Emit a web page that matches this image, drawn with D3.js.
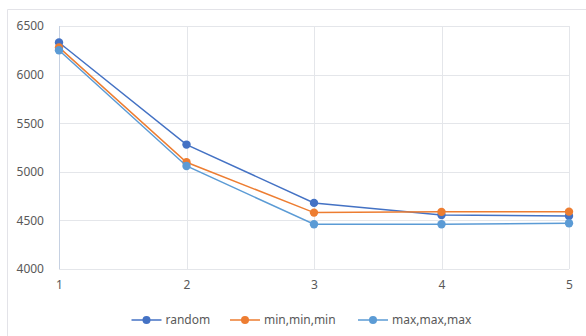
<!DOCTYPE html>
<html>
<head>
<meta charset="utf-8">
<script src="https://cdn.jsdelivr.net/npm/d3@7"></script>
<style>
  html, body { margin: 0; padding: 0; background: #fff; }
  svg { display: block; }
  text { font-family: "Noto Sans", "Open Sans", sans-serif; fill: #595959; }
</style>
</head>
<body>
<svg id="chart" width="586" height="336"></svg>
<script>
// Categories along the x axis
const categories = [1, 2, 3, 4, 5];
// Series values
const randomValues = [6330, 5280, 4680, 4555, 4545];
const minValues    = [6280, 5098, 4580, 4588, 4590];
const maxValues    = [6250, 5060, 4460, 4460, 4470];
const seriesNames  = ["random", "min,min,min", "max,max,max"];
// Y axis ticks
const yTicks = [4000, 4500, 5000, 5500, 6000, 6500];

const colors = ["#4472C4", "#ED7D31", "#5B9BD5"];
const series = [randomValues, minValues, maxValues].map((values, i) => ({
  name: seriesNames[i], color: colors[i],
  points: values.map((v, j) => ({ x: categories[j], y: v }))
}));

const svg = d3.select("#chart");

// chart frame
svg.append("line").attr("x1", 7.5).attr("x2", 586).attr("y1", 9.5).attr("y2", 9.5)
  .attr("stroke", "#e3e3e8");
svg.append("line").attr("x1", 7.5).attr("x2", 7.5).attr("y1", 9.5).attr("y2", 336)
  .attr("stroke", "#e3e3e8");

const margin = { left: 59, right: 569, top: 26, bottom: 269 };
const x = d3.scaleLinear().domain([1, 5]).range([margin.left, margin.right]);
const y = d3.scaleLinear().domain([4000, 6500]).range([margin.bottom, margin.top]);

// horizontal gridlines
svg.append("g").selectAll("line").data(yTicks).join("line")
  .attr("x1", margin.left).attr("x2", margin.right)
  .attr("y1", d => Math.round(y(d)) + 0.5).attr("y2", d => Math.round(y(d)) + 0.5)
  .attr("stroke", "#e4e6ea");
// vertical gridlines
svg.append("g").selectAll("line").data(categories.slice(1)).join("line")
  .attr("x1", d => Math.round(x(d)) + 0.5).attr("x2", d => Math.round(x(d)) + 0.5)
  .attr("y1", margin.top).attr("y2", margin.bottom)
  .attr("stroke", "#e4e6ea");
// y axis line
svg.append("line")
  .attr("x1", margin.left + 0.5).attr("x2", margin.left + 0.5)
  .attr("y1", margin.top).attr("y2", margin.bottom)
  .attr("stroke", "#c6d1e2");

// axes labels via d3 axes, with domain and ticks hidden
const yAxis = svg.append("g").attr("transform", `translate(${margin.left},0)`)
  .call(d3.axisLeft(y).tickValues(yTicks).tickSize(0).tickPadding(15).tickFormat(d3.format("d")));
yAxis.select(".domain").remove();
yAxis.selectAll("text").style("font-size", "12px").style("font-family", null).attr("fill", "#595959");

const xAxis = svg.append("g").attr("transform", `translate(0,${margin.bottom})`)
  .call(d3.axisBottom(x).tickValues(categories).tickSize(0).tickPadding(11).tickFormat(d3.format("d")));
xAxis.select(".domain").remove();
xAxis.selectAll("text").style("font-size", "12px").style("font-family", null).attr("fill", "#595959");

// series lines and markers
const line = d3.line().x(d => x(d.x)).y(d => y(d.y));
series.forEach(s => {
  const g = svg.append("g");
  g.append("path").datum(s.points).attr("d", line)
    .attr("fill", "none").attr("stroke", s.color).attr("stroke-width", 1.5);
  g.selectAll("circle").data(s.points).join("circle")
    .attr("cx", d => x(d.x)).attr("cy", d => y(d.y)).attr("r", 4.2)
    .attr("fill", s.color);
});

// legend
const legendX = [131.5, 230, 358];
const legend = svg.append("g").selectAll("g").data(series).join("g")
  .attr("transform", (d, i) => `translate(${legendX[i]},320)`);
legend.append("line").attr("x1", 0).attr("x2", 30)
  .attr("stroke", d => d.color).attr("stroke-width", 1.5);
legend.append("circle").attr("cx", 15).attr("r", 4).attr("fill", d => d.color);
legend.append("text").attr("x", 34).attr("dy", "0.35em")
  .style("font-size", "12px").text(d => d.name);
</script>
</body>
</html>
